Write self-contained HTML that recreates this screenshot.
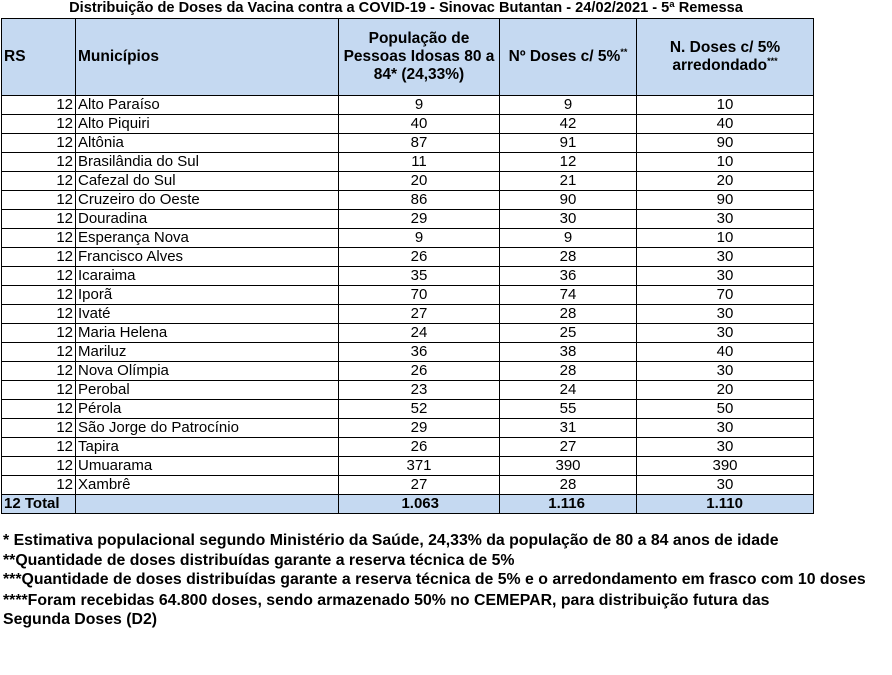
<!DOCTYPE html>
<html><head><meta charset="utf-8"><style>
body{margin:0;width:892px;height:675px;background:#fff;position:relative;overflow:hidden;font-family:"Liberation Sans",Arial,sans-serif;color:#000}
.t{position:absolute;left:0;width:812px;text-align:center;font-weight:bold;font-size:14.6px;top:0px;line-height:17px}
table{position:absolute;left:1px;top:18px;border-collapse:collapse;table-layout:fixed}
td{border:1px solid #000;padding:0 2px;font-size:15px;height:18px;line-height:18px;white-space:nowrap;overflow:hidden}
tr.h td{background:#c5d9f1;font-weight:bold;height:76px;line-height:18px;font-size:15.5px}
tr.tot td{background:#c5d9f1;font-weight:bold}
.c{text-align:center}.r{text-align:right}
sup{font-size:9px;line-height:0}
.fn{position:absolute;left:3px;font-weight:bold;font-size:16px;transform:scaleX(0.99);transform-origin:left;white-space:nowrap;line-height:19px}
</style></head><body>
<div class="t">Distribuição de Doses da Vacina contra a COVID-19 - Sinovac Butantan - 24/02/2021 - 5ª Remessa</div>
<table>
<colgroup><col style="width:74px"><col style="width:263px"><col style="width:161px"><col style="width:137px"><col style="width:177px"></colgroup>
<tr class="h"><td>RS</td><td>Municípios</td><td class="c">População de<br>Pessoas Idosas 80 a<br>84* (24,33%)</td><td class="c">Nº Doses c/ 5%<sup>**</sup></td><td class="c">N. Doses c/ 5%<br>arredondado<sup>***</sup></td></tr>
<tr><td class="r">12</td><td>Alto Paraíso</td><td class="c">9</td><td class="c">9</td><td class="c">10</td></tr>
<tr><td class="r">12</td><td>Alto Piquiri</td><td class="c">40</td><td class="c">42</td><td class="c">40</td></tr>
<tr><td class="r">12</td><td>Altônia</td><td class="c">87</td><td class="c">91</td><td class="c">90</td></tr>
<tr><td class="r">12</td><td>Brasilândia do Sul</td><td class="c">11</td><td class="c">12</td><td class="c">10</td></tr>
<tr><td class="r">12</td><td>Cafezal do Sul</td><td class="c">20</td><td class="c">21</td><td class="c">20</td></tr>
<tr><td class="r">12</td><td>Cruzeiro do Oeste</td><td class="c">86</td><td class="c">90</td><td class="c">90</td></tr>
<tr><td class="r">12</td><td>Douradina</td><td class="c">29</td><td class="c">30</td><td class="c">30</td></tr>
<tr><td class="r">12</td><td>Esperança Nova</td><td class="c">9</td><td class="c">9</td><td class="c">10</td></tr>
<tr><td class="r">12</td><td>Francisco Alves</td><td class="c">26</td><td class="c">28</td><td class="c">30</td></tr>
<tr><td class="r">12</td><td>Icaraima</td><td class="c">35</td><td class="c">36</td><td class="c">30</td></tr>
<tr><td class="r">12</td><td>Iporã</td><td class="c">70</td><td class="c">74</td><td class="c">70</td></tr>
<tr><td class="r">12</td><td>Ivaté</td><td class="c">27</td><td class="c">28</td><td class="c">30</td></tr>
<tr><td class="r">12</td><td>Maria Helena</td><td class="c">24</td><td class="c">25</td><td class="c">30</td></tr>
<tr><td class="r">12</td><td>Mariluz</td><td class="c">36</td><td class="c">38</td><td class="c">40</td></tr>
<tr><td class="r">12</td><td>Nova Olímpia</td><td class="c">26</td><td class="c">28</td><td class="c">30</td></tr>
<tr><td class="r">12</td><td>Perobal</td><td class="c">23</td><td class="c">24</td><td class="c">20</td></tr>
<tr><td class="r">12</td><td>Pérola</td><td class="c">52</td><td class="c">55</td><td class="c">50</td></tr>
<tr><td class="r">12</td><td>São Jorge do Patrocínio</td><td class="c">29</td><td class="c">31</td><td class="c">30</td></tr>
<tr><td class="r">12</td><td>Tapira</td><td class="c">26</td><td class="c">27</td><td class="c">30</td></tr>
<tr><td class="r">12</td><td>Umuarama</td><td class="c">371</td><td class="c">390</td><td class="c">390</td></tr>
<tr><td class="r">12</td><td>Xambrê</td><td class="c">27</td><td class="c">28</td><td class="c">30</td></tr>
<tr class="tot"><td>12 Total</td><td></td><td class="r" style="padding-right:60px">1.063</td><td class="r" style="padding-right:51px">1.116</td><td class="r" style="padding-right:70px">1.110</td></tr>
</table>
<div class="fn" style="top:531px">* Estimativa populacional segundo Ministério da Saúde, 24,33% da população de 80 a 84 anos de idade</div>
<div class="fn" style="top:551px">**Quantidade de doses distribuídas garante a reserva técnica de 5%</div>
<div class="fn" style="top:570px">***Quantidade de doses distribuídas garante a reserva técnica de 5% e o arredondamento em frasco com 10 doses</div>
<div class="fn" style="top:591px">****Foram recebidas 64.800 doses, sendo armazenado 50% no CEMEPAR, para distribuição futura das</div>
<div class="fn" style="top:610px">Segunda Doses (D2)</div>
</body></html>
